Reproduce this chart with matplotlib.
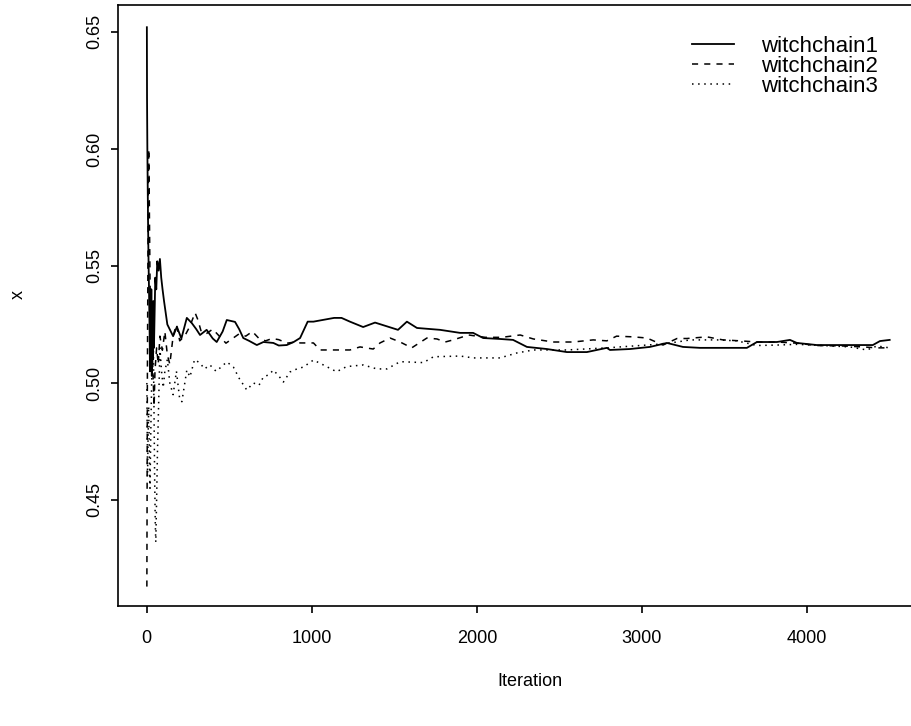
import matplotlib
matplotlib.use('Agg')
import matplotlib.pyplot as plt

plt.rcParams['font.family'] = ['Liberation Sans', 'DejaVu Sans']
plt.rcParams['font.size'] = 12

# running means: (iteration, value)
iter1 = [1, 2, 4, 6, 8, 10, 12, 14, 16, 18, 20, 22, 25, 28, 31, 34, 37, 40, 44, 48,
         52, 58, 64, 72, 80, 88, 96, 105, 115, 125, 141, 160, 183, 210, 243, 273, 300,
         323, 363, 400, 424, 460, 485, 535, 560, 585, 620, 667, 707, 767, 800, 848, 890,
         929, 975, 1010, 1135, 1180, 1231, 1311, 1383, 1522, 1576, 1637, 1777, 1898,
         1977, 2038, 2140, 2219, 2303, 2424, 2545, 2666, 2787, 2806, 2927, 3048, 3151,
         3248, 3351, 3472, 3635, 3696, 3817, 3896, 3938, 4059, 4180, 4301, 4398, 4441, 4500]
chain1 = [0.652, 0.622, 0.600, 0.585, 0.570, 0.558, 0.548, 0.540, 0.530, 0.520, 0.505,
          0.530, 0.510, 0.540, 0.503, 0.525, 0.510, 0.535, 0.515, 0.530, 0.545, 0.540,
          0.552, 0.548, 0.553, 0.545, 0.540, 0.535, 0.530, 0.525, 0.5227, 0.520, 0.524,
          0.519, 0.5278, 0.5256, 0.523, 0.5205, 0.5227, 0.519, 0.5175, 0.522, 0.5269,
          0.5261, 0.523, 0.5192, 0.518, 0.5162, 0.5175, 0.5171, 0.516, 0.5162, 0.5175,
          0.5192, 0.5262, 0.5262, 0.5278, 0.5278, 0.5262, 0.5239, 0.5258, 0.5227, 0.5262,
          0.5235, 0.5227, 0.5214, 0.5214, 0.5192, 0.5188, 0.5184, 0.5154, 0.5145, 0.5132,
          0.5132, 0.515, 0.5141, 0.5145, 0.5154, 0.5171, 0.5154, 0.515, 0.515, 0.515,
          0.5175, 0.5175, 0.5184, 0.5171, 0.5162, 0.5162, 0.5162, 0.5162, 0.5179, 0.5184]

iter2 = [1, 2, 3, 4, 6, 8, 10, 12, 14, 16, 18, 20, 23, 26, 30, 35, 40, 45, 50, 60, 70,
         80, 95, 110, 125, 140, 160, 180, 200, 230, 260, 293, 310, 330, 360, 400, 440,
         480, 520, 560, 600, 640, 680, 720, 760, 800, 850, 900, 930, 1010, 1050, 1190,
         1231, 1292, 1372, 1413, 1474, 1535, 1605, 1697, 1758, 1808, 1856, 1950, 2050,
         2150, 2262, 2342, 2462, 2583, 2704, 2787, 2846, 2947, 3030, 3127, 3212, 3272,
         3393, 3490, 3594, 3696, 3817, 3938, 4059, 4217, 4338, 4423, 4500]
chain2 = [0.413, 0.440, 0.470, 0.500, 0.530, 0.560, 0.585, 0.600, 0.590, 0.575, 0.560,
          0.545, 0.530, 0.540, 0.520, 0.510, 0.500, 0.490, 0.505, 0.515, 0.508, 0.520,
          0.514, 0.522, 0.512, 0.508, 0.520, 0.525, 0.518, 0.520, 0.524, 0.530, 0.527,
          0.522, 0.521, 0.523, 0.520, 0.517, 0.519, 0.521, 0.520, 0.522, 0.519, 0.518,
          0.519, 0.5185, 0.517, 0.5175, 0.5171, 0.5171, 0.5141, 0.5141, 0.5141, 0.5154,
          0.5145, 0.5171, 0.5192, 0.5175, 0.515, 0.5192, 0.5188, 0.5175, 0.5184, 0.5205,
          0.5195, 0.5195, 0.5205, 0.5188, 0.5175, 0.5175, 0.5184, 0.518, 0.520, 0.5197,
          0.5192, 0.5162, 0.519, 0.519, 0.5197, 0.5184, 0.518, 0.5175, 0.5175, 0.517,
          0.516, 0.5158, 0.5154, 0.515, 0.515]

iter3 = [1, 3, 5, 8, 12, 16, 20, 25, 30, 35, 40, 44, 48, 52, 55, 60, 65, 72, 80, 90,
         100, 110, 125, 140, 160, 180, 200, 213, 243, 262, 290, 323, 350, 383, 420, 444,
         485, 525, 560, 606, 646, 680, 707, 740, 767, 800, 828, 868, 910, 949, 1010, 1070,
         1150, 1211, 1312, 1394, 1455, 1535, 1676, 1737, 1899, 1979, 2140, 2241, 2342,
         2545, 2787, 2887, 2988, 3090, 3212, 3291, 3454, 3575, 3696, 3817, 3938, 4096,
         4259, 4362, 4423, 4500]
chain3 = [0.500, 0.480, 0.460, 0.475, 0.490, 0.470, 0.455, 0.480, 0.500, 0.510, 0.518,
          0.490, 0.460, 0.440, 0.432, 0.450, 0.470, 0.490, 0.515, 0.505, 0.498, 0.505,
          0.510, 0.500, 0.495, 0.505, 0.493, 0.492, 0.5055, 0.5026, 0.510, 0.5085, 0.506,
          0.5077, 0.505, 0.5064, 0.509, 0.5068, 0.502, 0.497, 0.500, 0.499, 0.5026,
          0.5035, 0.5055, 0.503, 0.5004, 0.5047, 0.506, 0.5068, 0.5098, 0.5077, 0.5048,
          0.507, 0.5077, 0.506, 0.506, 0.5091, 0.5087, 0.5112, 0.5115, 0.5107, 0.5107,
          0.5128, 0.5141, 0.5141, 0.515, 0.5155, 0.516, 0.5165, 0.5175, 0.5184, 0.5184,
          0.518, 0.516, 0.5162, 0.5165, 0.516, 0.5154, 0.5141, 0.5158, 0.515]

labels = ['witchchain1', 'witchchain2', 'witchchain3']

fig = plt.figure(figsize=(9.12, 7.26), dpi=100)
W, H = 912, 726
# right edge of the box falls outside the picture, as in the reference
ax = fig.add_axes([118.3 / W, 120 / H, 801.1 / W, 601 / H])

ax.plot(iter1, chain1, color='black', lw=1.3, ls='-', label=labels[0])
ax.plot(iter2, chain2, color='black', lw=1.1, ls=(0, (4, 4)), label=labels[1])
ax.plot(iter3, chain3, color='black', lw=1.1, ls=(0, (1, 3)), label=labels[2])

ax.set_xlim(-172, 4680)
ax.set_ylim(0.4047, 0.6615)
ax.set_xticks([0, 1000, 2000, 3000, 4000])
ax.set_yticks([0.45, 0.50, 0.55, 0.60, 0.65])
ax.set_yticklabels(['0.45', '0.50', '0.55', '0.60', '0.65'], rotation=90, va='center')
ax.tick_params(direction='out', length=5, width=1.2, labelsize=13)
ax.tick_params(axis='x', pad=12)
ax.tick_params(axis='y', pad=6)
for s in ax.spines.values():
    s.set_linewidth(1.2)

fig.text(530 / W, 1 - 681 / H, 'Iteration', ha='center', va='center', fontsize=13)
fig.text(18 / W, 1 - 295 / H, 'x', ha='center', va='center', rotation=90, fontsize=13)

ax.legend(loc='upper left', bbox_to_anchor=(692 / W, 1 - 36 / H),
          bbox_transform=fig.transFigure, frameon=False, borderpad=0,
          borderaxespad=0, handlelength=1.9, handletextpad=1.2,
          labelspacing=-0.04, fontsize=16)

fig.savefig('out.png', dpi=100)
